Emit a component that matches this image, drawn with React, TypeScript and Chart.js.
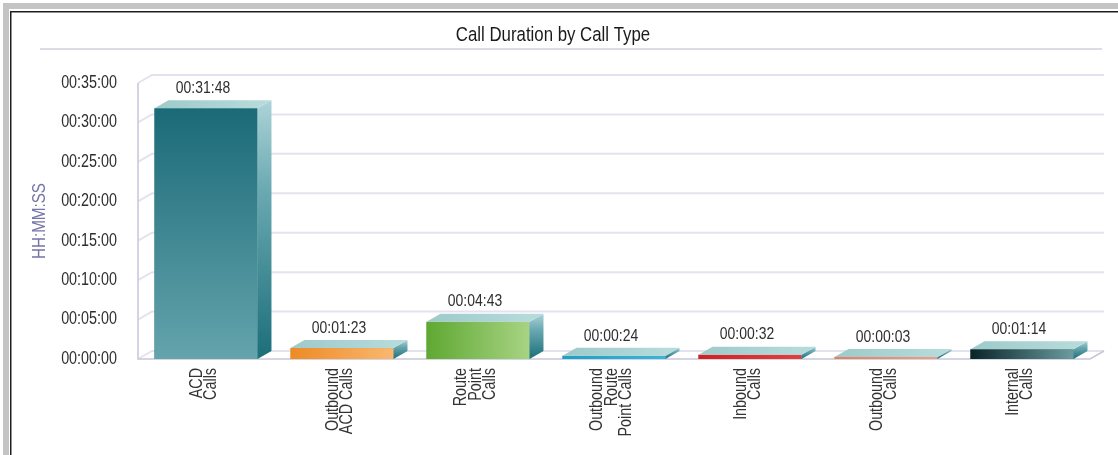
import React, { useEffect, useRef } from "react";
import { Chart, registerables } from "chart.js";

Chart.register(...registerables);

// ---- data ----
const categories: string[][] = [
  ["ACD", "Calls"],
  ["Outbound", "ACD Calls"],
  ["Route", "Point", "Calls"],
  ["Outbound", "Route", "Point Calls"],
  ["Inbound", "Calls"],
  ["Outbound", "Calls"],
  ["Internal", "Calls"],
];
// call duration in seconds (00:31:48, 00:01:23, 00:04:43, 00:00:24, 00:00:32, 00:00:03, 00:01:14)
const durationSeconds: number[] = [1908, 83, 283, 24, 32, 3, 74];
const yMin = 0;
const yMax = 2100;
const yStep = 300;

const chartTitle = "Call Duration by Call Type";
const yAxisTitle = "HH:MM:SS";

// ---- styles ----
const frontStart = ["#1b6a78", "#ee8a26", "#5fa832", "#1f9fc4", "#d41f27", "#e47f62", "#0a2428"];
const frontEnd = ["#64a4ac", "#f8b870", "#a8d383", "#3bb5d6", "#e0403f", "#eaa088", "#6b9ba0"];

const FONT = "'Liberation Sans', Arial, sans-serif";
const NARROW = 0.82;
const DX = 14;
const DY = 8;

function fmt(sec: number): string {
  const s = Math.round(sec);
  const h = Math.floor(s / 3600);
  const m = Math.floor((s % 3600) / 60);
  const r = s % 60;
  const p = (n: number) => String(n).padStart(2, "0");
  return `${p(h)}:${p(m)}:${p(r)}`;
}

function narrowText(
  ctx: CanvasRenderingContext2D,
  text: string,
  x: number,
  y: number,
  size: number,
  color: string,
  align: CanvasTextAlign,
  rot = 0
) {
  ctx.save();
  ctx.translate(x, y);
  if (rot) ctx.rotate(rot);
  ctx.scale(NARROW, 1);
  ctx.font = `${size}px ${FONT}`;
  ctx.fillStyle = color;
  ctx.textAlign = align;
  ctx.textBaseline = "middle";
  ctx.fillText(text, 0, 0);
  ctx.restore();
}

const decorPlugin = {
  id: "decor3d",
  beforeDraw(chart: any) {
    const { ctx, width, height } = chart;
    ctx.save();
    ctx.fillStyle = "#ffffff";
    ctx.fillRect(0, 0, width, height);
    // frame
    ctx.fillStyle = "#c4c4c4";
    ctx.fillRect(3, 3, width - 3, 6);
    ctx.fillRect(3, 3, 6, height - 3);
    ctx.fillStyle = "#1e1e1e";
    ctx.fillRect(10, 11, width - 10, 1.5);
    ctx.fillRect(10, 11, 1.5, height - 11);
    // title
    narrowText(ctx, chartTitle, 553, 35, 20.5, "#1a1a1a", "center");
    ctx.fillStyle = "#dcdce8";
    ctx.fillRect(40, 48, 1062, 2);
    ctx.restore();
  },
  beforeDatasetsDraw(chart: any) {
    const { ctx, chartArea } = chart;
    const { left, right, top, bottom } = chartArea;
    const ys = chart.scales.y;
    ctx.save();
    ctx.strokeStyle = "#e3e3ef";
    ctx.lineWidth = 2;
    ys.ticks.forEach((t: any) => {
      const py = ys.getPixelForValue(t.value);
      ctx.beginPath();
      ctx.moveTo(left, py);
      ctx.lineTo(left + DX, py - DY);
      ctx.lineTo(right + DX, py - DY);
      ctx.stroke();
    });
    ctx.strokeStyle = "#c6c6da";
    ctx.lineWidth = 1.5;
    ctx.beginPath();
    ctx.moveTo(left, top);
    ctx.lineTo(left, bottom);
    ctx.lineTo(right, bottom);
    ctx.lineTo(right + DX, bottom - DY);
    ctx.stroke();
    ctx.restore();
    // y tick labels and y title
    ys.ticks.forEach((t: any) => {
      const py = ys.getPixelForValue(t.value);
      narrowText(ctx, fmt(t.value), 117, py, 17.5, "#2e2e2e", "right");
    });
    narrowText(ctx, yAxisTitle, 40, (top + bottom) / 2, 18.5, "#7474a8", "center", -Math.PI / 2);
  },
  afterDatasetsDraw(chart: any) {
    const { ctx } = chart;
    const meta = chart.getDatasetMeta(0);
    ctx.save();
    meta.data.forEach((el: any, i: number) => {
      const { x, y, base, width } = el.getProps(["x", "y", "base", "width"], true);
      const x0 = x - width / 2;
      const x1 = x + width / 2;
      const h = Math.max(base - y, 0);
      // front face
      let g;
      if (i === 0) {
        g = ctx.createLinearGradient(0, y, 0, base);
      } else {
        g = ctx.createLinearGradient(x0, 0, x1, 0);
      }
      g.addColorStop(0, frontStart[i]);
      g.addColorStop(1, frontEnd[i]);
      ctx.fillStyle = g;
      ctx.fillRect(x0, y, width, h);
      // side face
      const sg = ctx.createLinearGradient(0, y - DY, 0, base);
      sg.addColorStop(0, "#acd3d8");
      sg.addColorStop(0.35, "#6aa9b1");
      sg.addColorStop(1, "#1b6e79");
      ctx.fillStyle = sg;
      ctx.beginPath();
      ctx.moveTo(x1, y);
      ctx.lineTo(x1 + DX, y - DY);
      ctx.lineTo(x1 + DX, base - DY);
      ctx.lineTo(x1, base);
      ctx.closePath();
      ctx.fill();
      // top face
      const tg = ctx.createLinearGradient(x0, 0, x1 + DX, 0);
      tg.addColorStop(0, "#9ecaca");
      tg.addColorStop(1, "#b8dcdc");
      ctx.fillStyle = tg;
      ctx.beginPath();
      ctx.moveTo(x0, y);
      ctx.lineTo(x0 + DX, y - DY);
      ctx.lineTo(x1 + DX, y - DY);
      ctx.lineTo(x1, y);
      ctx.closePath();
      ctx.fill();
      // value label
      narrowText(ctx, fmt(durationSeconds[i]), x - 3, y - DY - 12, 17, "#2e2e2e", "center");
    });
    ctx.restore();
  },
  afterDraw(chart: any) {
    const { ctx } = chart;
    const xs = chart.scales.x;
    categories.forEach((lines, i) => {
      const px = xs.getPixelForValue(i);
      lines.forEach((line, j) => {
        const cx = px - 2 + (j - (lines.length - 1) / 2) * 14.5;
        narrowText(ctx, line, cx, 368, 17.5, "#333333", "right", -Math.PI / 2);
      });
    });
  },
};

export default function App() {
  const ref = useRef<HTMLCanvasElement | null>(null);
  useEffect(() => {
    if (!ref.current) return;
    const chart = new Chart(ref.current, {
      type: "bar",
      data: {
        labels: categories,
        datasets: [
          {
            label: "Call Duration",
            data: durationSeconds,
            backgroundColor: frontStart,
            borderWidth: 0,
            barPercentage: 0.757,
            categoryPercentage: 1,
            minBarLength: 2,
          },
        ],
      },
      options: {
        responsive: false,
        animation: false,
        devicePixelRatio: 1,
        layout: { padding: { top: 83, right: 28, bottom: 0, left: 0 } },
        plugins: {
          legend: { display: false },
          title: { display: false },
          tooltip: { enabled: false },
        },
        scales: {
          x: {
            grid: { display: false, drawTicks: false },
            border: { display: false },
            ticks: { display: false },
            afterFit: (s: any) => {
              s.height = 96;
            },
          },
          y: {
            min: yMin,
            max: yMax,
            grid: { display: false, drawTicks: false },
            border: { display: false },
            ticks: {
              stepSize: yStep,
              display: false,
              callback: (v: any) => fmt(Number(v)),
            },
            title: { display: false, text: yAxisTitle },
            afterFit: (s: any) => {
              s.width = 138;
            },
          },
        },
      },
      plugins: [decorPlugin],
    });
    return () => chart.destroy();
  }, []);

  return (
    <div style={{ position: "fixed", left: 0, top: 0, width: 1118, height: 455, background: "#fff" }}>
      <canvas ref={ref} width={1118} height={455} style={{ display: "block" }} />
    </div>
  );
}
